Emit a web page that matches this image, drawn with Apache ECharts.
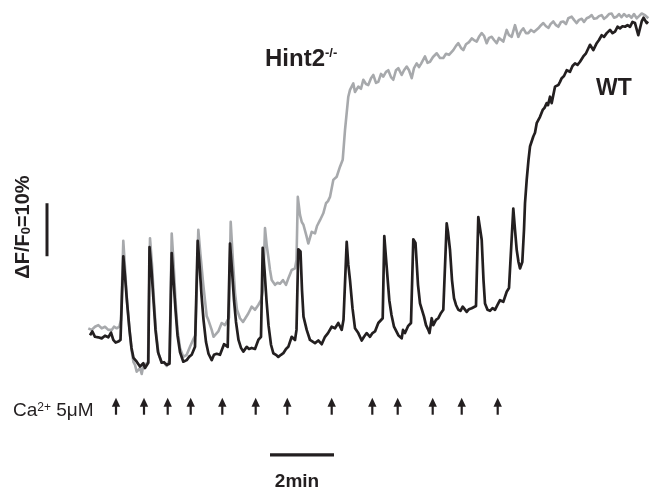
<!DOCTYPE html>
<html><head><meta charset="utf-8">
<script src="https://cdn.jsdelivr.net/npm/echarts@6/dist/echarts.min.js"></script>
<style>html,body{margin:0;padding:0;background:#fff}#c{width:651px;height:491px}</style>
</head><body><div id="c"></div>
<script>
// Time in frames (1 frame ~ 1.875 s, so 64 frames = 2 min); signal as ΔF/F0 (%)
const wtT = [
2,4.3,7,10.3,13.7,17,20.3,23,25.3,27.7,
30.3,32.5,35.3,37,39,41.5,43.5,45.5,48.7,52,
55.3,57,60.3,61.5,63.5,65.5,67.5,70,73.7,76,
78.7,81.5,83.7,85.5,87.5,89.5,92,95.3,98.7,101,
103.7,107,109.7,111.5,113.5,115.5,118,120.5,123.7,126,
128.7,132,136,139.7,142,144,146,148,150.5,153,
155.3,158.7,161,163.7,167,170.3,173,174.7,176.5,178.5,
180.5,183,185.3,188,190.3,193,195.3,198,200.3,203.7,
207,208.5,210.3,212.5,214,215.5,218.7,222,227,230.3,
233.7,237,240,242,243.7,247,250.3,253.7,255.5,258.7,
260.3,262,264.5,267,270.3,273.7,276,278.7,282,284.5,
287,290.3,294.7,296.3,298.5,301.3,303.5,306,310.3,312,
313.7,315,317,320,323,325.3,327.5,330,332,336,
338,340.3,341.5,343.7,345.3,348,350.3,353,355.3,358.7,
360,362,364,366,368,370.3,372.5,374.7,378.7,381,
383.7,388,390.3,392,393.7,395.5,397,399.5,402,404.5,
407,409.5,412,415.3,418.7,421,423,425.3,427,428.7,
430.5,432,434.3,436,437,438.7,440.5,442,445.3,447,
448.7,452,454.7,456.5,458.7,460,462,463.7,467,470.3,
472,473.7,476,478.7,482,484.5,487,489.5,492,495.3,
498,500,502,505.3,508.7,511,513.7,516,518.7,522,
524.5,527,529.5,532,534.5,537,539.5,542,544.5,547,
550.3,553.7,555.5,558.7,560];
const wtV = [
0.9,1.6,0.6,0.5,0.3,0.8,0.5,1.4,0,-0.5,
-0.3,0,15.8,12.1,7.2,1.9,-1.5,-3.4,-4.1,-5.0,
-4.4,-5.3,-4.3,17.5,13.2,7.5,1.9,-2.3,-4.3,-4.2,
-4.7,-4.5,16.4,11.3,5.7,0.9,-2.3,-4.1,-3.8,-3.2,
-2.8,-1.3,18.7,14.2,8.5,3.8,-0.4,-2.6,-3.8,-2.8,
-2.6,-2.8,-0.8,-1.3,18.2,13.2,7.5,3.4,0,-1.5,
-2.2,-1.3,-1.7,-1.5,-1.7,0,0.6,17.4,13.2,7.5,
2.8,-0.9,-2.5,-2.8,-3.2,-2.8,-2.5,-1.7,-1.3,0.6,
0,1.9,17.1,16.7,9.4,4.4,1.9,0,-0.6,-0.1,
-0.8,0.6,1.3,1.6,2.5,2.2,3.2,1.9,3.8,18.5,
14.2,11.3,6.0,2.2,1.3,-0.1,0.6,1.3,0.6,1.3,
1.6,3.2,4.1,19.6,14.2,7.5,4.7,2.5,0.9,0.8,
0.3,1.9,1.3,2.6,3.2,19.0,18.3,10.4,6.9,4.4,
2.8,1.9,1.3,4.1,2.8,3.8,4.1,5.1,5.7,22.0,
20.4,17.0,11.3,7.9,6.6,5.7,5.5,6.3,5.3,5.8,
6.0,6.4,23.2,21.1,18.9,11.3,6.9,5.7,5.5,6.0,
5.7,6.6,7.5,7.2,9.1,9.8,10.1,24.8,20.8,17.0,
14.7,13.5,14.7,20.8,25.8,30.2,34.0,36.5,38.4,39.1,
40.9,42.1,43.4,43.8,44.7,44.3,45.9,44.7,47.8,48.1,
48.7,49.4,49.8,50.9,50.6,51.7,52.2,51.9,52.5,53.5,
54.1,53.8,55.7,54.7,56.0,56.6,57.5,57.2,57.9,58.5,
57.9,58.2,59.1,58.8,59.2,59.1,59.4,59.1,60.0,59.8,
57.5,60.1,60.8,59.8,60.1];
const koT = [
0.3,3.7,7,10.3,13.7,17,20.3,23.7,26,28.7,
31.3,33,35.3,37,39,41.5,43.5,45.5,47,48.7,
50.3,52,53.7,55.3,57,60,62,64,66,68,
70.5,73.7,76,78.7,81.5,83.7,85.5,87.5,89.5,92,
95.3,98.7,102,105,107.5,110.3,112.5,115.3,118.7,120.3,
123.7,125.5,127,130.3,133.7,137,139.7,141,142.7,145,
147,149,152,155,157,160.3,163.7,167,170.3,173,
175,177,178.7,180.3,182,183.7,187,189.5,192,195,
198,200.3,203.7,207,208.5,209.8,212,213.7,215.5,217,
218.5,220.3,222,223.7,227,229,232,235.3,238,240,
242,245.3,248.7,252,254.7,257,260.3,262,264,265.3,
267,270.3,273,275.3,278,280.3,283,285.3,288,290.3,
293,295.3,298,300.3,303,305.3,308,310.3,313.7,316,
318.7,321,323.7,326,328.7,331,333,335,337,339.5,
342,345,348.7,352,355.3,358,361,365.3,368,370.3,
373,375.3,378,381,383.7,386,388.7,391,393.7,396,
398.7,401,403.7,406,408.7,411,413,415.3,418.7,421,
423.7,427,430.3,433,435.3,438,440.3,443,446,450.3,
453,455.3,458,460.5,462.5,465.3,468,470.3,473,475.3,
478,480.3,483.7,486,488.7,491,493.7,496,498.7,501,
503.7,506,508.7,511,513.7,516,518.7,521,523.7,526,
528.7,531,533.5,536,538.7,541,543.5,546,548.7,551,
553.7,557,560.3];
const koV = [
2.2,1.9,2.5,2.8,2.2,2.5,1.9,1.9,2.5,2.2,
2.5,3.8,18.7,13.6,7.5,1.9,-1.9,-4.2,-4.7,-6.0,
-6.3,-5.3,-6.4,-4.9,-5.1,-4.2,19.2,14.2,7.5,1.5,
-2.6,-4.2,-4.3,-4.9,-3.8,20.1,14.7,7.5,1.9,-1.5,
-3.2,-2.8,-1.3,0,0.9,20.8,16.0,10.4,4.5,3.8,
1.9,0.6,0.8,1.6,3.2,2.8,3.8,4.2,22.3,14.7,
8.9,5.7,4.1,3.4,3.2,5.0,6.3,5.7,6.6,7.5,
9.4,21.1,17.9,15.7,13.2,11.3,10.4,10.8,10.6,11.3,
10.4,11.6,13.2,13.5,15.1,27.0,23.6,22.3,21.7,21.4,
19.6,18.2,18.5,20.4,20.1,21.5,22.6,23.9,25.8,26.2,
27.0,30.2,30.8,32.7,34.0,39.6,45.9,47.2,47.5,48.4,
46.8,47.8,47.4,49.1,48.3,48.1,49.4,50.0,48.5,48.7,
50.2,49.7,50.6,50.9,49.6,49.1,50.9,51.3,50.0,50.9,
51.6,50.9,49.4,51.3,52.2,51.5,52.1,52.8,53.5,52.3,
52.5,53.4,54.1,53.2,53.2,54.0,53.8,54.7,55.5,56.0,
55.1,54.7,55.8,56.2,56.9,56.6,56.3,57.2,57.9,57.4,
56.0,57.0,57.2,56.6,56.0,57.0,57.0,56.3,58.5,57.5,
57.2,59.4,57.2,58.3,58.8,57.9,57.9,58.5,58.1,58.8,
59.4,59.8,59.2,58.9,59.6,60.1,59.4,59.1,60.0,60.1,
59.6,60.7,61.0,60.4,59.8,60.4,60.6,60.0,60.7,60.9,
61.3,60.6,60.7,61.1,61.3,60.6,61.0,61.5,61.6,60.8,
61.0,61.5,60.9,61.5,61.0,61.3,60.8,61.5,60.7,61.1,
61.6,61.3,60.7];
// Ca2+ (5 µM) additions, frame index
const stimFrames = [28,56,79.7,102.7,134.3,167.7,199.3,243.7,284.3,309.7,344.7,373.7,409.7];
// scale bars
const scaleTimeFrames = 64;   // = 2 min
const scaleDeltaPct = 10;     // ΔF/F0 = 10 %
const labels = {ko:'Hint2', koSup:'-/-', wt:'WT', yScale:'ΔF/F', yScaleSub:'0', yScaleTail:'=10%', ca:'Ca', caSup:'2+', caTail:' 5μM', tScale:'2min'};

const INK = '#231f20', GREY = '#a7a9ac';
const FONT = '"Liberation Sans", Arial, Helvetica, sans-serif';
const zip = (a, b) => a.map((t, i) => [t, b[i]]);

// layout constants (axis window, scale-bar anchors, arrow row)
const X_MIN = -88, X_MAX = 563, Y_MIN = -28.5, Y_MAX = 64.15;
const VBAR_X = -41, VBAR_Y0 = 15.8;
const HBAR_X0 = 182, HBAR_Y = -21.7;
const ARROW_Y = -10.9;

const chart = echarts.init(document.getElementById('c'), null, {renderer: 'canvas'});
chart.setOption({
  animation: false,
  backgroundColor: '#fff',
  grid: {left: 0, right: 0, top: 0, bottom: 0},
  xAxis: {type: 'value', min: X_MIN, max: X_MAX, show: false},
  yAxis: {type: 'value', min: Y_MIN, max: Y_MAX, show: false},
  series: [
    {name: 'Hint2-/-', type: 'line', data: zip(koT, koV), showSymbol: false, symbol: 'none',
     lineStyle: {color: GREY, width: 2.6, join: 'round'}, z: 2},
    {name: 'WT', type: 'line', data: zip(wtT, wtV), showSymbol: false, symbol: 'none',
     lineStyle: {color: INK, width: 2.7, join: 'round'}, z: 3},
    {name: 'scaleY', type: 'line', data: [[VBAR_X, VBAR_Y0], [VBAR_X, VBAR_Y0 + scaleDeltaPct]],
     showSymbol: false, symbol: 'none', lineStyle: {color: INK, width: 3, cap: 'butt'}, z: 4},
    {name: 'scaleT', type: 'line', data: [[HBAR_X0, HBAR_Y], [HBAR_X0 + scaleTimeFrames, HBAR_Y]],
     showSymbol: false, symbol: 'none', lineStyle: {color: INK, width: 3.2, cap: 'butt'}, z: 4},
    {name: 'Ca2+', type: 'custom', data: stimFrames.map(f => [f]), z: 4,
     renderItem: function (params, api) {
       const p = api.coord([api.value(0), ARROW_Y]);
       return {type: 'group', children: [
         {type: 'polygon', shape: {points: [[p[0], p[1]], [p[0] - 4.2, p[1] + 9], [p[0] + 4.2, p[1] + 9]]},
          style: {fill: INK}},
         {type: 'line', shape: {x1: p[0], y1: p[1] + 6, x2: p[0], y2: p[1] + 17},
          style: {stroke: INK, lineWidth: 2.2}}
       ]};
     }}
  ],
  graphic: [
    {type: 'text', x: 265, y: 59, style: {
      text: '{a|' + labels.ko + '}{s|' + labels.koSup + '}', fill: INK, align: 'left', verticalAlign: 'middle',
      rich: {a: {fontSize: 24, fontWeight: 'bold', fontFamily: FONT, fill: INK},
             s: {fontSize: 13, fontWeight: 'bold', fontFamily: FONT, fill: INK, verticalAlign: 'top'}}}},
    {type: 'text', x: 596, y: 89, style: {
      text: labels.wt, fill: INK, align: 'left', verticalAlign: 'middle',
      font: 'bold 23px ' + FONT}},
    {type: 'text', x: 23, y: 227, rotation: Math.PI / 2, style: {
      text: '{a|' + labels.yScale + '}{s|' + labels.yScaleSub + '}{a|' + labels.yScaleTail + '}',
      fill: INK, align: 'center', verticalAlign: 'middle',
      rich: {a: {fontSize: 20, fontWeight: 'bold', fontFamily: FONT, fill: INK},
             s: {fontSize: 13, fontWeight: 'bold', fontFamily: FONT, fill: INK, verticalAlign: 'bottom'}}}},
    {type: 'text', x: 13, y: 411, style: {
      text: '{a|' + labels.ca + '}{s|' + labels.caSup + '}{a|' + labels.caTail + '}',
      fill: INK, align: 'left', verticalAlign: 'middle',
      rich: {a: {fontSize: 19, fontFamily: FONT, fill: INK},
             s: {fontSize: 12, fontFamily: FONT, fill: INK, verticalAlign: 'top'}}}},
    {type: 'text', x: 297, y: 482, style: {
      text: labels.tScale, fill: INK, align: 'center', verticalAlign: 'middle',
      font: 'bold 19px ' + FONT}}
  ]
});
</script>
</body></html>
